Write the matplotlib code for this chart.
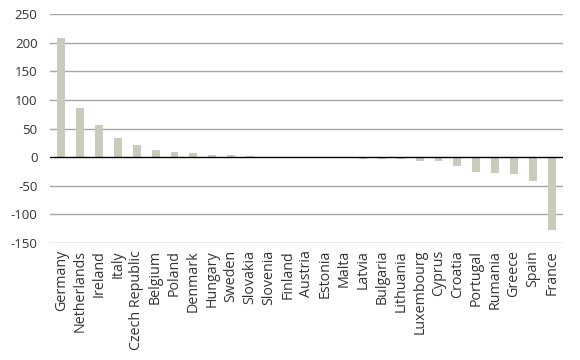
import matplotlib
matplotlib.use("Agg")
import matplotlib.pyplot as plt

countries = ["Germany", "Netherlands", "Ireland", "Italy", "Czech Republic", "Belgium",
             "Poland", "Denmark", "Hungary", "Sweden", "Slovakia", "Slovenia", "Finland",
             "Austria", "Estonia", "Malta", "Latvia", "Bulgaria", "Lithuania", "Luxembourg",
             "Cyprus", "Croatia", "Portugal", "Rumania", "Greece", "Spain", "France"]
values = [207.5, 85, 56, 33, 21, 12.5, 9.5, 7.5, 4, 3.5, 2, 0.5, 0.3,
          -0.5, -1, -2, -2.5, -3.5, -4, -6, -7, -15, -26, -28, -30, -42, -127]
yticks = [-150, -100, -50, 0, 50, 100, 150, 200, 250]

plt.rcParams['font.family'] = ['Open Sans', 'DejaVu Sans']
fig = plt.figure(figsize=(5.8, 3.6), dpi=100)
ax = fig.add_axes([50/580, 1 - 243/360, (563-50)/580, (243-14)/360])

x = list(range(len(countries)))
ax.bar(x, values, width=0.42, color="#cbcbbd", zorder=3)
ax.set_ylim(-150, 250)
ax.set_xlim(-0.6, len(countries) - 0.4)
ax.set_yticks(yticks)
ax.set_yticklabels([str(v) for v in yticks], fontsize=9.5, color="#333333")
ax.set_xticks(x)
ax.set_xticklabels(countries, rotation=90, fontsize=10.3, color="#333333")
ax.tick_params(axis='both', length=0)
ax.tick_params(axis='y', pad=9)
ax.tick_params(axis='x', pad=5)
for v in yticks:
    if v != 0:
        ax.axhline(v, color="#a6a6a6", lw=1, zorder=1)
ax.axhline(0, color="black", lw=1, zorder=4)
for s in ax.spines.values():
    s.set_visible(False)

fig.savefig("out.png", dpi=100)
